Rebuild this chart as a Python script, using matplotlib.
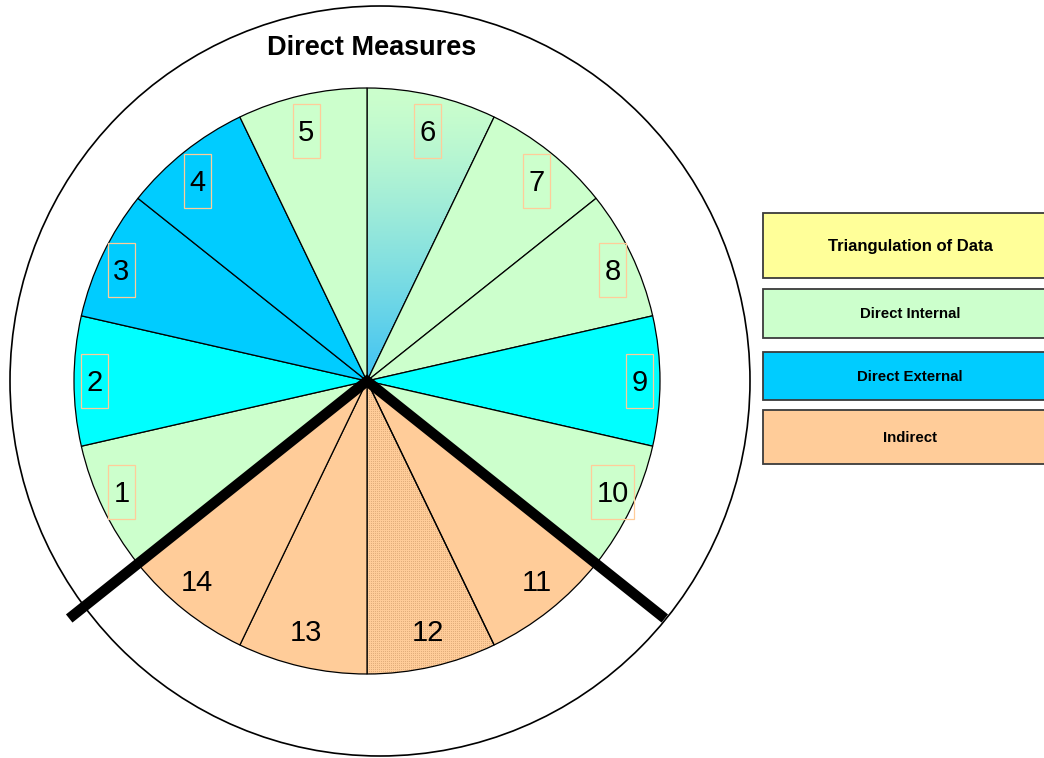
import matplotlib
matplotlib.use("Agg")
import matplotlib.pyplot as plt
import numpy as np
from matplotlib import patches
from matplotlib.colors import to_rgb
from matplotlib.lines import Line2D

W, H = 1044, 758

GREEN = "#CCFFCC"
BLUE = "#00CCFF"
CYAN = "#00FFFF"
ORANGE = "#FFCC99"
YELLOW = "#FFFF99"
DOT = "#E2AE7C"
GRAD_TOP = "#CCFFCC"
GRAD_BOTTOM = "#3EC2F4"

# segments listed clockwise starting at 12 o'clock
SEGMENT_LABELS = ["6", "7", "8", "9", "10", "11", "12", "13", "14", "1", "2", "3", "4", "5"]
SEGMENT_SIZES = [1, 1, 1, 1, 1, 1, 1, 1, 1, 1, 1, 1, 1, 1]
SEGMENT_FILL = ["gradient", GREEN, GREEN, CYAN, GREEN, ORANGE, "dotted", ORANGE, ORANGE,
                GREEN, CYAN, BLUE, BLUE, GREEN]
BOXED_LABELS = ["1", "2", "3", "4", "5", "6", "7", "8", "9", "10"]

LEGEND_LABELS = ["Triangulation of Data", "Direct Internal", "Direct External", "Indirect"]
LEGEND_COLORS = [YELLOW, GREEN, BLUE, ORANGE]

FONT = ["Liberation Sans", "DejaVu Sans"]


def py(y):
    # pixel row (top origin) -> data y
    return H - y


def build():
    plt.rcParams["font.family"] = FONT
    fig = plt.figure(figsize=(W / 100, H / 100), dpi=100)
    ax = fig.add_axes([0, 0, 1, 1])

    cx, cy, r = 367, py(381), 293

    faces = [c if c.startswith("#") else "none" for c in SEGMENT_FILL]
    wedges, _ = ax.pie(
        SEGMENT_SIZES,
        colors=faces,
        startangle=90,
        counterclock=False,
        center=(cx, cy),
        radius=r,
        wedgeprops=dict(edgecolor="black", linewidth=0.9),
    )

    # special fills: gradient and stipple, clipped to their wedges
    for wedge, fill in zip(wedges, SEGMENT_FILL):
        if fill == "gradient":
            top, bot = np.array(to_rgb(GRAD_TOP)), np.array(to_rgb(GRAD_BOTTOM))
            t = np.linspace(0, 1, 256)[:, None, None] ** 1.3
            img = np.repeat(top * (1 - t) + bot * t, 4, axis=1)
            im = ax.imshow(img, extent=(cx - 5, cx + r, cy, cy + r), origin="upper",
                           aspect="auto", zorder=0.5, interpolation="bilinear")
            im.set_clip_path(wedge)
        elif fill == "dotted":
            hgt, wid = r + 4, 140
            img = np.ones((hgt, wid, 3)) * np.array(to_rgb(ORANGE))
            ii, jj = np.indices((hgt, wid))
            img[(ii % 2 == 0) & (jj % 2 == 0)] = to_rgb(DOT)
            im = ax.imshow(img, extent=(cx - 4, cx - 4 + wid, cy - hgt, cy), origin="upper",
                           aspect="auto", zorder=0.5, interpolation="nearest")
            im.set_clip_path(wedge)

    # segment numbers, some framed by a thin tall box
    for wedge, lab in zip(wedges, SEGMENT_LABELS):
        mid = np.deg2rad((wedge.theta1 + wedge.theta2) / 2)
        x = cx + 0.93 * r * np.cos(mid)
        y = cy + 0.875 * r * np.sin(mid)
        ax.text(x, y - 2, lab, fontsize=21, ha="center", va="center", zorder=3)
        if lab in BOXED_LABELS:
            bw = 27 if len(lab) == 1 else 43
            ax.add_patch(patches.Rectangle((x - bw / 2, y - 27), bw, 54, fill=False,
                                           ec=ORANGE, lw=0.9, zorder=3))

    # thick divider between direct and indirect measures
    a_left = np.deg2rad(wedges[8].theta1)
    a_right = np.deg2rad(wedges[4].theta1)
    ln = 1.3 * r
    ax.add_line(Line2D(
        [cx + ln * np.cos(a_left), cx, cx + ln * np.cos(a_right)],
        [cy + ln * np.sin(a_left), cy, cy + ln * np.sin(a_right)],
        color="black", lw=7.5, solid_joinstyle="miter", solid_capstyle="butt", zorder=4,
    ))

    ax.add_patch(patches.Ellipse((380, py(381)), 740, 750, fill=False, ec="black", lw=1.2))
    ax.text(372, py(48), "Direct Measures", fontsize=19.5, fontweight="bold",
            ha="center", va="center")

    # legend boxes
    tops = [213, 289, 352, 410]
    bottoms = [278, 338, 400, 464]
    sizes = [12, 10.8, 10.8, 10.8]
    for lab, col, t, b, fs in zip(LEGEND_LABELS, LEGEND_COLORS, tops, bottoms, sizes):
        ax.add_patch(patches.Rectangle((763, py(b)), 295, b - t, fc=col, ec="#3A3A3A", lw=1.3))
        ax.text(910, py((t + b) / 2 + 1), lab, fontsize=fs, fontweight="bold",
                ha="center", va="center")

    ax.set_xlim(0, W)
    ax.set_ylim(0, H)
    ax.set_aspect("equal")
    ax.axis("off")
    fig.savefig("out.png", dpi=100, facecolor="white")
    plt.close(fig)


if __name__ == "__main__":
    build()
